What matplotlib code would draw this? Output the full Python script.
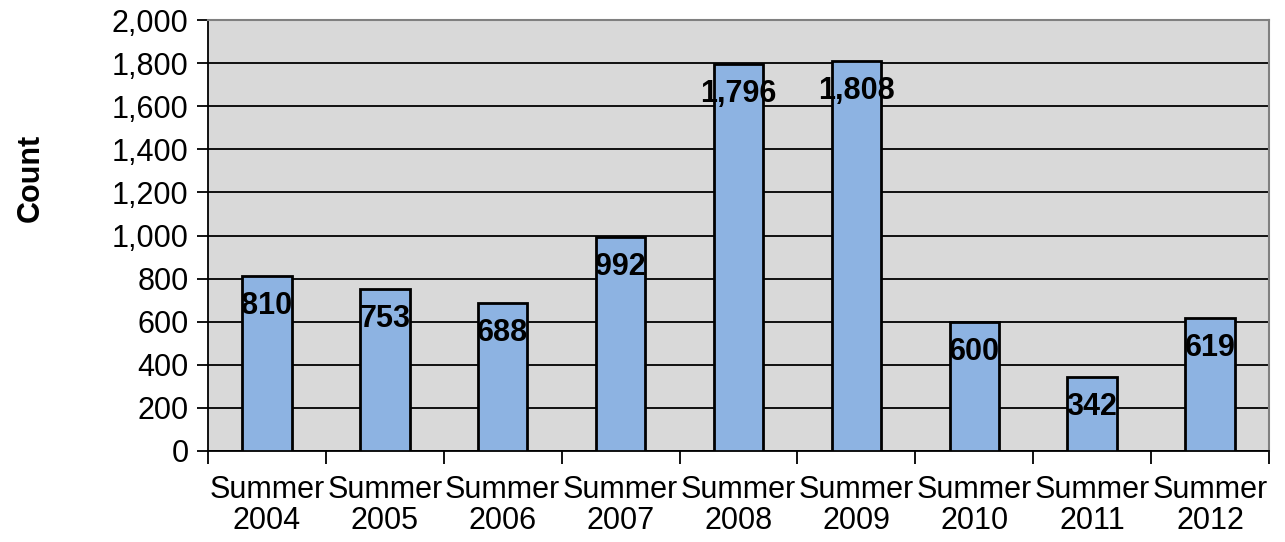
import matplotlib.pyplot as plt
from matplotlib.ticker import FuncFormatter, FixedLocator

plt.rcParams['font.family'] = ['Liberation Sans', 'DejaVu Sans']

years = ['2004', '2005', '2006', '2007', '2008', '2009', '2010', '2011', '2012']
counts = [810, 753, 688, 992, 1796, 1808, 600, 342, 619]
labels = ['Summer\n' + y for y in years]

fig = plt.figure(figsize=(12.85, 5.42), dpi=100)
ax = fig.add_axes([208 / 1285, 1 - 451 / 542, (1269 - 208) / 1285, (451 - 20) / 542])
ax.set_facecolor('#d9d9d9')

x = list(range(len(years)))
ax.bar(x, counts, width=0.42, color='#8db3e2', edgecolor='black', linewidth=2, zorder=3)

for xi, c in zip(x, counts):
    ax.annotate(f'{c:,}', (xi, c), xytext=(0, -30), textcoords='offset pixels',
                ha='center', va='center', fontsize=22, fontweight='bold', zorder=4)

ax.set_xlim(-0.5, len(years) - 0.5)
ax.set_ylim(0, 2000)
ax.set_yticks(range(0, 2001, 200))
ax.yaxis.set_major_formatter(FuncFormatter(lambda v, p: f'{int(v):,}'))
ax.yaxis.grid(True, color='black', linewidth=1.3, zorder=1)

ax.set_xticks(x)
ax.set_xticklabels(labels, fontsize=22, linespacing=1.08)
ax.xaxis.set_minor_locator(FixedLocator([i - 0.5 for i in range(len(years) + 1)]))
ax.tick_params(axis='x', which='major', length=0, pad=17)
ax.tick_params(axis='x', which='minor', length=9, width=1.3, color='black')
ax.tick_params(axis='y', length=8, width=1.3, labelsize=22, pad=6)

for s in ['top', 'right']:
    ax.spines[s].set_color('#808080')
    ax.spines[s].set_linewidth(1.5)
for s in ['left', 'bottom']:
    ax.spines[s].set_color('black')
    ax.spines[s].set_linewidth(1.3)

fig.text(31 / 1285, 1 - 178 / 542, 'Count', rotation=90, ha='center', va='center',
         fontsize=22, fontweight='bold')

fig.savefig('out.png', dpi=100, facecolor='white')
